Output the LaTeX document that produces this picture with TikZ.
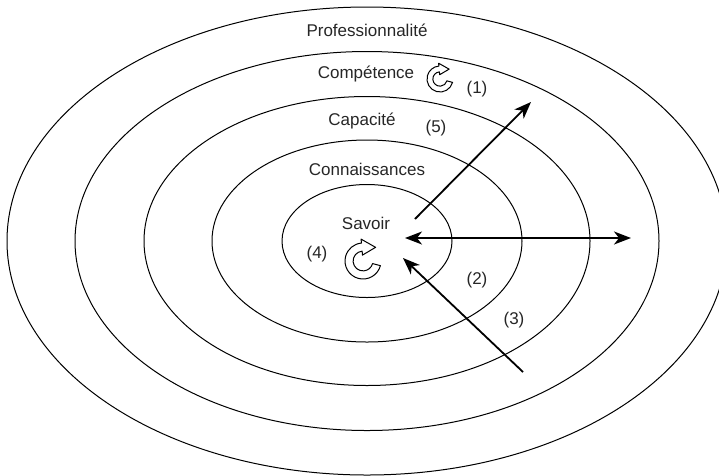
\documentclass[tikz,border=0pt]{standalone}
\usepackage{fontspec}
\setmainfont{Liberation Sans}
\usetikzlibrary{arrows.meta}
\tikzset{
  ring/.style={draw=black, line width=1pt},
  lbl/.style={inner sep=0pt, font=\fontsize{17}{20}\selectfont, text=black!85},
  bigarrow/.style={line width=1.8pt, -{Stealth[length=17pt, width=13pt, inset=5pt]}},
  cyclearrow/.pic={
    \draw[line width=1pt, line join=round]
      (-15:1) arc[start angle=-15, end angle=-265, radius=1]
      -- (95:1.22) -- (0.70,0.76) -- (95:0.33) -- (95:0.55)
      arc[start angle=-265, end angle=-15, radius=0.55] -- cycle;
  }
}
\begin{document}
\begin{tikzpicture}[x=1pt, y=1pt]
\useasboundingbox (0,0) rectangle (719,-475);
\coordinate (c) at (367,-241);
\draw[ring] (c) ellipse [x radius=85, y radius=56.5];
\draw[ring] (c) ellipse [x radius=155, y radius=101];
\draw[ring] (c) ellipse [x radius=223, y radius=144.5];
\draw[ring] (c) ellipse [x radius=292, y radius=189.5];
\draw[ring] (c) ellipse [x radius=360, y radius=234];

\node[lbl] (prof) at (367,-30) {Professionnalité};
\node[lbl] (comp) at (366,-74) {Compétence};
\node[lbl] (cap) at (362,-121) {Capacité};
\node[lbl] (conn) at (367,-169) {Connaissances};
\node[lbl] (sav) at (366,-223) {Savoir};
\node[lbl] (n1) at (477,-89) {(1)};
\node[lbl] (n5) at (436,-128) {(5)};
\node[lbl] (n4) at (317,-254) {(4)};
\node[lbl] (n2) at (477,-280) {(2)};
\node[lbl] (n3) at (514,-320) {(3)};

\pic[scale=13] at (440,-79) {cyclearrow};
\pic[scale=18] at (363,-261) {cyclearrow};

\coordinate (a1s) at (415,-219);
\coordinate (a1e) at (531,-102);
\coordinate (a2l) at (405,-238);
\coordinate (a2r) at (631,-238);
\coordinate (a3s) at (523,-372);
\coordinate (a3e) at (403,-258);
\draw[bigarrow] (a1s) -- (a1e);
\draw[bigarrow, {Stealth[length=17pt, width=13pt, inset=5pt]}-{Stealth[length=17pt, width=13pt, inset=5pt]}] (a2l) -- (a2r);
\draw[bigarrow] (a3s) -- (a3e);
\end{tikzpicture}
\end{document}
